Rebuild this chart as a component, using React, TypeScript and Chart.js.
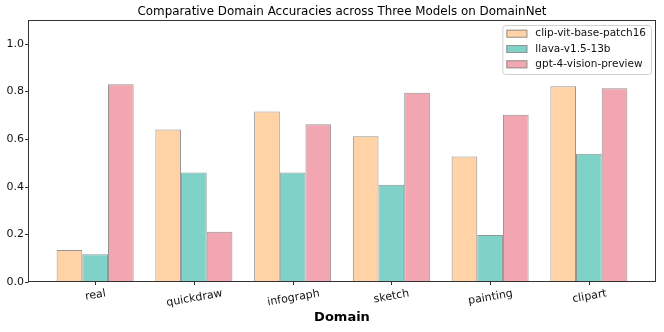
import React, { useEffect, useRef } from "react";
import { Chart, registerables } from "chart.js";

Chart.register(...registerables);

const title = "Comparative Domain Accuracies across Three Models on DomainNet";
const xAxisTitle = "Domain";
const categories = ["real", "quickdraw", "infograph", "sketch", "painting", "clipart"];
const seriesNames = ["clip-vit-base-patch16", "llava-v1.5-13b", "gpt-4-vision-preview"];
const clipValues = [0.134, 0.64, 0.716, 0.612, 0.527, 0.822];
const llavaValues = [0.117, 0.46, 0.46, 0.408, 0.197, 0.538];
const gptValues = [0.83, 0.211, 0.662, 0.795, 0.702, 0.813];
const yTicks = [0.0, 0.2, 0.4, 0.6, 0.8, 1.0];
const seriesColors = ["#FFD3A6", "#7FD2C8", "#F2A6B2"];
const edgeColor = "#939393";
const FONT = "'DejaVu Sans', Verdana, sans-serif";

const overlayPlugin = {
  id: "mplOverlay",
  afterDatasetsDraw(chart: any) {
    const ctx = chart.ctx as CanvasRenderingContext2D;
    const area = chart.chartArea;
    const xs = chart.scales.x;
    const ys = chart.scales.y;
    ctx.save();
    // axes frame
    ctx.strokeStyle = "#333";
    ctx.lineWidth = 1;
    const l = Math.round(area.left) + 0.5;
    const r = Math.round(area.right) - 0.5;
    const t = Math.round(area.top) + 0.5;
    const b = Math.round(area.bottom) - 0.5;
    ctx.strokeRect(l, t, r - l, b - t);

    // y ticks
    ctx.fillStyle = "#111";
    ctx.font = `11px ${FONT}`;
    ctx.textAlign = "right";
    ctx.textBaseline = "middle";
    yTicks.forEach((v) => {
      const py = Math.round(ys.getPixelForValue(v)) + 0.5;
      ctx.beginPath();
      ctx.moveTo(l - 3.5, py);
      ctx.lineTo(l, py);
      ctx.stroke();
      ctx.fillText(v.toFixed(1), l - 4.5, py);
    });

    // x ticks with rotated centered labels
    const rot = (10 * Math.PI) / 180;
    categories.forEach((c, i) => {
      const px = Math.round(xs.getPixelForValue(i)) + 0.5;
      ctx.beginPath();
      ctx.moveTo(px, b);
      ctx.lineTo(px, b + 3.5);
      ctx.stroke();
      ctx.font = `11px ${FONT}`;
      const w = ctx.measureText(c).width;
      const h = 13;
      const bh = w * Math.sin(rot) + h * Math.cos(rot);
      const cy = b + 5.5 + bh / 2;
      ctx.save();
      ctx.translate(px, cy);
      ctx.rotate(-rot);
      ctx.textAlign = "center";
      ctx.textBaseline = "middle";
      ctx.fillText(c, 0, 0);
      ctx.restore();
    });

    // axis title
    ctx.font = `bold 13px ${FONT}`;
    ctx.fillStyle = "#000";
    ctx.textAlign = "center";
    ctx.textBaseline = "middle";
    ctx.fillText(xAxisTitle, (area.left + area.right) / 2, 318);

    // chart title
    ctx.font = `11.9px ${FONT}`;
    ctx.fillText(title, (area.left + area.right) / 2, 12);

    // legend
    const lgRight = area.right - 5;
    const lgTop = area.top + 5;
    ctx.font = `10.5px ${FONT}`;
    const maxW = Math.max(...seriesNames.map((n) => ctx.measureText(n).width));
    const lgW = 4 + 21 + 8 + maxW + 5;
    const lgH = 49;
    const lgLeft = lgRight - lgW;
    ctx.beginPath();
    (ctx as any).roundRect(lgLeft + 0.5, lgTop + 0.5, lgW, lgH, 3);
    ctx.fillStyle = "rgba(255,255,255,0.8)";
    ctx.fill();
    ctx.strokeStyle = "#d0d0d0";
    ctx.stroke();
    chart.data.datasets.forEach((ds: any, k: number) => {
      const rowY = lgTop + 8.7 + k * 15.3;
      ctx.fillStyle = ds.backgroundColor;
      ctx.fillRect(lgLeft + 4, rowY - 4, 21, 8);
      ctx.strokeStyle = edgeColor;
      ctx.strokeRect(lgLeft + 4.5, rowY - 3.5, 20, 7);
      ctx.fillStyle = "#111";
      ctx.textAlign = "left";
      ctx.textBaseline = "middle";
      ctx.fillText(ds.label, lgLeft + 33, rowY);
    });
    ctx.restore();
  },
};

export default function App() {
  const canvasRef = useRef<HTMLCanvasElement | null>(null);

  useEffect(() => {
    document.body.style.margin = "0";
    const canvas = canvasRef.current;
    if (!canvas) return;
    const seriesValues = [clipValues, llavaValues, gptValues];
    const chart = new Chart(canvas, {
      type: "bar",
      data: {
        datasets: seriesNames.map((name, k) => ({
          label: name,
          data: categories.map((_, i) => ({ x: i, y: seriesValues[k][i] })),
          backgroundColor: seriesColors[k],
          borderColor: edgeColor,
          borderWidth: 1,
          borderSkipped: false,
          categoryPercentage: 0.78,
          barPercentage: 1.0,
        })),
      },
      options: {
        animation: false,
        responsive: false,
        devicePixelRatio: 1,
        layout: { padding: { top: 20, right: 8, left: 0, bottom: 0 } },
        plugins: {
          legend: { display: false },
          title: { display: false },
          tooltip: { enabled: false },
        },
        scales: {
          x: {
            type: "linear",
            min: -0.68,
            max: categories.length - 1 + 0.68,
            offset: false,
            ticks: { display: false },
            grid: { display: false },
            border: { display: false },
            afterBuildTicks: (s: any) => {
              s.ticks = categories.map((_, i) => ({ value: i }));
            },
            afterFit: (s: any) => {
              s.height = 50;
            },
          },
          y: {
            min: 0,
            max: 1.1,
            ticks: { display: false },
            grid: { display: false },
            border: { display: false },
            afterFit: (s: any) => {
              s.width = 28;
            },
          },
        },
      } as any,
      plugins: [overlayPlugin],
    });
    return () => chart.destroy();
  }, []);

  return (
    <div style={{ width: 664, height: 332, background: "#fff" }}>
      <canvas ref={canvasRef} width={664} height={332} />
    </div>
  );
}
